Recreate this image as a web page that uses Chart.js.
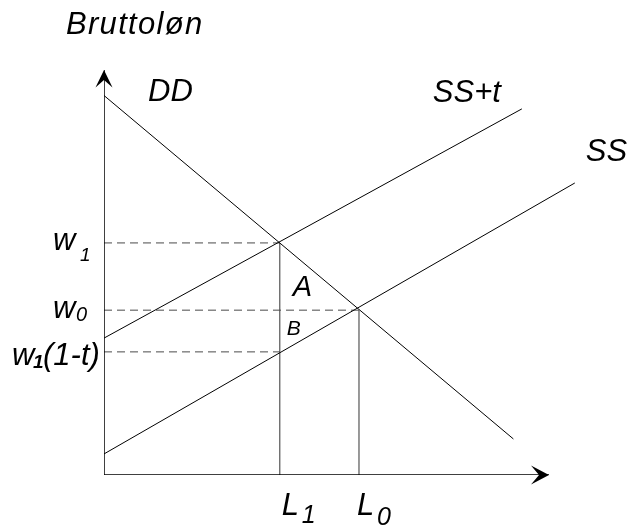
<!DOCTYPE html>
<html>
<head>
<meta charset="utf-8">
<script src="https://cdn.jsdelivr.net/npm/chart.js@4/dist/chart.umd.min.js"></script>
<style>
  html, body { margin: 0; padding: 0; background: #ffffff; }
  canvas { display: block; }
</style>
</head>
<body>
<canvas id="c" width="630" height="526"></canvas>
<script>
// ---- data (model units) ----
const L1 = 3.95;
const L0 = 5.73;
const w1 = 5.73;
const w0 = 4.07;
const w1t = 3.04;

const demandX = [0, 9.2];
const demandY = [9.37, 0.89];
const supplyX = [0, 10.58];
const supplyY = [0.52, 7.21];
const supplyTaxX = [0, 9.39];
const supplyTaxY = [3.38, 9.04];

const axisMaxX = 10;
const axisMaxY = 10;

const curveNames = ['DD', 'SS+t', 'SS'];
const yAxisTitle = 'Bruttoløn';

function pts(xs, ys) { return xs.map((x, i) => ({ x: x, y: ys[i] })); }

const FONT = '"Liberation Sans", Arial, sans-serif';

const lineDs = (data, color, width, dash) => ({
  data: data, showLine: true, borderColor: color, borderWidth: width,
  borderDash: dash || [], pointRadius: 0, fill: false, tension: 0
});

const datasets = [
  lineDs(pts([0, 0], [0, axisMaxY]), '#000', 1.5),
  lineDs(pts([0, axisMaxX], [0, 0]), '#000', 1.5),
  lineDs(pts(demandX, demandY), '#000', 1),
  lineDs(pts(supplyX, supplyY), '#000', 1),
  lineDs(pts(supplyTaxX, supplyTaxY), '#000', 1),
  lineDs(pts([0, L1], [w1, w1]), '#4a4a4a', 1, [8, 5]),
  lineDs(pts([0, L0], [w0, w0]), '#4a4a4a', 1, [8, 5]),
  lineDs(pts([0, L1], [w1t, w1t]), '#4a4a4a', 1, [8, 5]),
  lineDs(pts([L1, L1], [0, w1]), '#555', 1.2),
  lineDs(pts([L0, L0], [0, w0]), '#555', 1.2)
];

const decor = {
  id: 'decor',
  afterDatasetsDraw(chart) {
    const ctx = chart.ctx;
    const xs = chart.scales.x, ys = chart.scales.y;
    const X = v => xs.getPixelForValue(v);
    const Y = v => ys.getPixelForValue(v);
    ctx.save();
    ctx.fillStyle = '#000';
    // arrowheads
    const ox = X(0), oy = Y(0), ty = Y(axisMaxY), tx = X(axisMaxX);
    ctx.beginPath();
    ctx.moveTo(ox, ty);
    ctx.lineTo(ox - 8.5, ty + 17.5);
    ctx.lineTo(ox, ty + 10);
    ctx.lineTo(ox + 8.5, ty + 17.5);
    ctx.closePath();
    ctx.fill();
    ctx.beginPath();
    ctx.moveTo(tx, oy);
    ctx.lineTo(tx - 18, oy - 9.5);
    ctx.lineTo(tx - 10, oy);
    ctx.lineTo(tx - 18, oy + 9.5);
    ctx.closePath();
    ctx.fill();

    const txt = (s, x, y, size, bold, spacing) => {
      ctx.font = 'italic ' + (bold ? 'bold ' : '') + size + 'px ' + FONT;
      ctx.letterSpacing = (spacing || 0) + 'px';
      ctx.textBaseline = 'alphabetic';
      ctx.textAlign = 'left';
      ctx.fillText(s, x, y);
    };
    // titles / curve labels
    txt(yAxisTitle, ox - 38, ty - 36, 31, false, 1.3);
    txt(curveNames[0], X(demandX[0]) + 44, Y(demandY[0]) + 5, 31);
    txt(curveNames[1], X(supplyTaxX[1]) - 89, Y(supplyTaxY[1]) - 7, 31);
    txt(curveNames[2], X(supplyX[1]) + 11, Y(supplyY[1]) - 22, 31);
    // wage labels
    txt('w', ox - 51, Y(w1) + 7, 31);
    txt('1', ox - 24, Y(w1) + 18, 19);
    txt('w', ox - 51, Y(w0) + 8, 31);
    txt('0', ox - 28, Y(w0) + 11, 20);
    txt('w', ox - 92, Y(w1t) + 13, 31);
    txt('1', ox - 71, Y(w1t) + 16, 19, true);
    txt('(1-t)', ox - 61, Y(w1t) + 13, 31);
    // quantity labels
    txt('L', X(L1) + 2, oy + 40, 31);
    txt('1', X(L1) + 22, oy + 48, 25);
    txt('L', X(L0) - 2, oy + 40, 31);
    txt('0', X(L0) + 18, oy + 50, 25);
    // areas
    txt('A', X(L1) + 13, Y(w0) - 14, 29);
    txt('B', X(L1) + 7, Y(w0) + 25, 21);
    ctx.restore();
  }
};

new Chart(document.getElementById('c'), {
  type: 'scatter',
  data: { datasets: datasets },
  options: {
    responsive: false,
    animation: false,
    layout: { padding: { left: 104, right: 36.5, top: 70, bottom: 51 } },
    plugins: { legend: { display: false }, tooltip: { enabled: false } },
    scales: {
      x: { type: 'linear', min: 0, max: 11, display: false },
      y: { type: 'linear', min: 0, max: axisMaxY, display: false }
    }
  },
  plugins: [decor]
});
</script>
</body>
</html>
